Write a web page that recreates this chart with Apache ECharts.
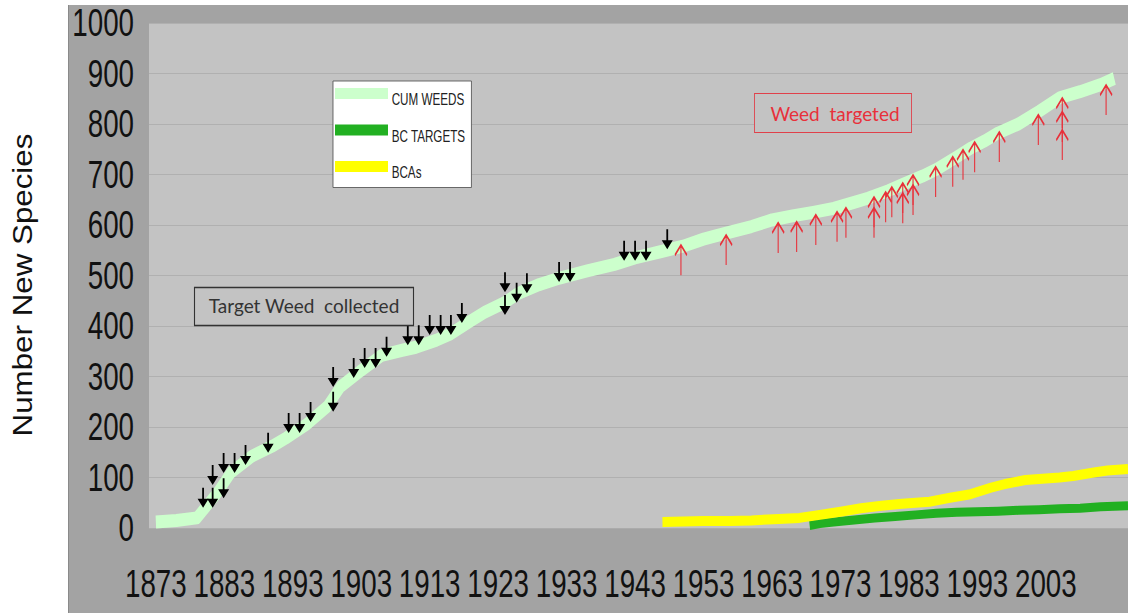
<!DOCTYPE html>
<html>
<head>
<meta charset="utf-8">
<script src="https://cdn.jsdelivr.net/npm/echarts@6/dist/echarts.min.js"></script>
<style>
html,body{margin:0;padding:0;background:#fff;overflow:hidden;}
#wrap{width:1128px;height:613px;overflow:hidden;position:relative;}
#chart{width:1545px;height:613px;transform:scaleX(0.730097);transform-origin:0 0;}
</style>
</head>
<body>
<div id="wrap"><div id="chart"></div></div>
<script>
// ---- data ----
const tickYears = [1873,1883,1893,1903,1913,1923,1933,1943,1953,1963,1973,1983,1993,2003];

const cumWeeds = [[1873,12],[1876,15],[1879,20],[1882,70],[1884,110],[1887,142],[1890,162],[1892,178],[1895,205],[1898,240],[1900,280],[1903,312],[1906,342],[1909,352],[1911,358],[1914,372],[1916,384],[1919,410],[1921,427],[1924,447],[1926,465],[1929,482],[1932,495],[1936,509],[1940,522],[1943,535],[1947,548],[1950,558],[1953,572],[1956,583],[1960,597],[1963,610],[1966,618],[1969,625],[1972,633],[1975,645],[1977,653],[1980,668],[1982,680],[1985,697],[1987,710],[1990,735],[1992,752],[1994,766],[1996,782],[1999,800],[2002,825],[2005,852],[2008,864],[2011,878],[2013,890]];

const bcTargets = [[1968.5,5],[1970,9],[1972,12],[1975,16],[1978,20],[1981,23],[1984,26],[1987,29],[1990,31],[1993,32],[1996,33],[1999,35],[2002,36],[2005,38],[2008,39],[2011,42],[2015,44]];

const bcas = [[1947,12],[1950,13],[1953,14],[1957,14],[1960,15],[1964,18],[1967,20],[1969,24],[1973,32],[1976,39],[1979,44],[1982,48],[1986,52],[1989,60],[1992,67],[1995,80],[1997,87],[2000,95],[2002,97],[2005,100],[2007,103],[2010,110],[2012,114],[2015,117]];

// "Target Weed collected" arrows (tip positions: year, species)
const collected = [[1879.9,40],[1881.3,40],[1881.3,85],[1882.9,59],[1882.9,109],[1884.5,109],[1886.1,125],[1889.4,149],[1892.4,188],[1894.0,188],[1895.6,210],[1898.9,230],[1898.9,279],[1901.9,297],[1903.5,317],[1905.1,317],[1906.7,339],[1909.8,362],[1911.4,362],[1913.0,382],[1914.6,382],[1916.1,382],[1917.7,406],[1924.0,467],[1924.0,422],[1925.7,446],[1927.2,465],[1931.9,487],[1933.5,487],[1941.4,529],[1943.0,529],[1944.6,529],[1947.7,552]];

// "Weed targeted" arrows (tip positions: year, species)
const targeted = [[1949.7,560],[1956.3,580],[1963.9,604],[1966.6,606],[1969.4,620],[1972.5,626],[1973.8,634],[1977.9,655],[1977.9,634],[1979.6,665],[1980.5,675],[1982.1,683],[1982.1,663],[1983.6,699],[1983.6,679],[1986.9,715],[1989.4,735],[1990.9,749],[1992.6,764],[1996.2,784],[2001.9,818],[2005.4,851],[2005.4,824],[2005.4,788],[2011.8,877]];

const seriesNames = ['CUM WEEDS','BC TARGETS','BCAs'];
const seriesColors = ['#ccffcc','#22b022','#ffff00'];

// The chart is laid out on a wider canvas and condensed horizontally by K (CSS),
// which gives the narrow, tall lettering of the original. H() converts screen px to layout px.
const K = 1128/1545;
const H = v => v / K;

const chart = echarts.init(document.getElementById('chart'), null, {renderer:'svg'});
const plain = v => String(v);
const sans = "'Liberation Sans', Arial, sans-serif";

const option = {
  animation: false,
  grid: {left:H(149), right:0, top:23, bottom:85, show:true, backgroundColor:'#c3c3c3', borderWidth:0, containLabel:false},
  xAxis: {
    type:'value', min:1872, max:2015,
    axisLine:{show:false}, axisTick:{show:false}, splitLine:{show:false},
    axisLabel:{customValues: tickYears, formatter:plain, fontFamily:sans, fontSize:38, color:'#111', margin:37}
  },
  yAxis: {
    type:'value', min:0, max:1000, interval:100,
    axisLine:{show:false}, axisTick:{show:false},
    splitLine:{show:true, lineStyle:{color:'#adadad', width:1}},
    axisLabel:{formatter:plain, fontFamily:sans, fontSize:38, color:'#111', margin:H(15)}
  },
  legend: {
    data: seriesNames, orient:'vertical', left:H(333), top:81,
    icon:'rect', itemWidth:H(53), itemHeight:11, itemGap:17,
    backgroundColor:'#fff', borderColor:'#555', borderWidth:1, borderRadius:0,
    padding:[7,H(6),7,H(2)],
    formatter:'{t|{name}}',
    textStyle:{fontFamily:sans, fontSize:16, color:'#222',
      rich:{t:{fontFamily:sans, fontSize:16, color:'#222', padding:[12,0,0,0]}}},
    selectedMode:false
  },
  graphic: {elements:[
    {type:'rect', z:-10, shape:{x:H(68), y:5, width:H(1060), height:608}, style:{fill:'#a3a3a3'}},
    {type:'rect', z:-9, shape:{x:H(68), y:5, width:H(1), height:608}, style:{fill:'#8a8a8a'}},
    {type:'text', x:H(23), y:285, rotation:Math.PI/2, scaleX:1.16, scaleY:1/K,
      style:{text:'Number New Species', font:"27px 'Liberation Sans', Arial, sans-serif", fill:'#111', textAlign:'center', textVerticalAlign:'middle'}},
    {type:'rect', z:20, shape:{x:H(194.5), y:287.5, width:H(219), height:38}, style:{fill:'#c3c3c3', stroke:'#333', lineWidth:1.5}},
    {type:'text', z:21, x:H(304), y:306, scaleX:1/K, style:{text:'Target Weed  collected', font:"19px Lato, 'Open Sans', sans-serif", fill:'#333', textAlign:'center', textVerticalAlign:'middle'}},
    {type:'rect', z:20, shape:{x:H(754.5), y:93.5, width:H(157), height:39}, style:{fill:'#c3c3c3', stroke:'#e0404a', lineWidth:1.2}},
    {type:'text', z:21, x:H(835), y:114, scaleX:1/K, style:{text:'Weed  targeted', font:"19px Lato, 'Open Sans', sans-serif", fill:'#e8303a', textAlign:'center', textVerticalAlign:'middle'}}
  ]},
  series: [
    {name:seriesNames[0], type:'line', data:cumWeeds, symbol:'none', z:2,
      lineStyle:{color:seriesColors[0], width:13, join:'round'}, itemStyle:{color:seriesColors[0]}},
    {name:seriesNames[1], type:'line', data:bcTargets, symbol:'none', z:3,
      lineStyle:{color:seriesColors[1], width:9, join:'round'}, itemStyle:{color:seriesColors[1]}},
    {name:seriesNames[2], type:'line', data:bcas, symbol:'none', z:4,
      lineStyle:{color:seriesColors[2], width:10, join:'round'}, itemStyle:{color:seriesColors[2]}},
    {name:'collected', type:'scatter', data:collected, z:6,
      symbol:'path://M4.6 0 H6.4 V11 H11 L5.5 20 L0 11 H4.6 Z', symbolSize:[H(11),20], symbolOffset:[0,-10],
      itemStyle:{color:'#000', opacity:1}, silent:true},
    {name:'targeted', type:'scatter', data:targeted, z:6,
      symbol:'path://M6 0 L6 30 M0 10 L6 0 L12 10', symbolSize:[H(12),30], symbolOffset:[0,15],
      itemStyle:{color:'rgba(0,0,0,0)', borderColor:'#e8303a', borderWidth:2, opacity:1}, silent:true}
  ]
};
chart.setOption(option);
</script>
</body>
</html>
